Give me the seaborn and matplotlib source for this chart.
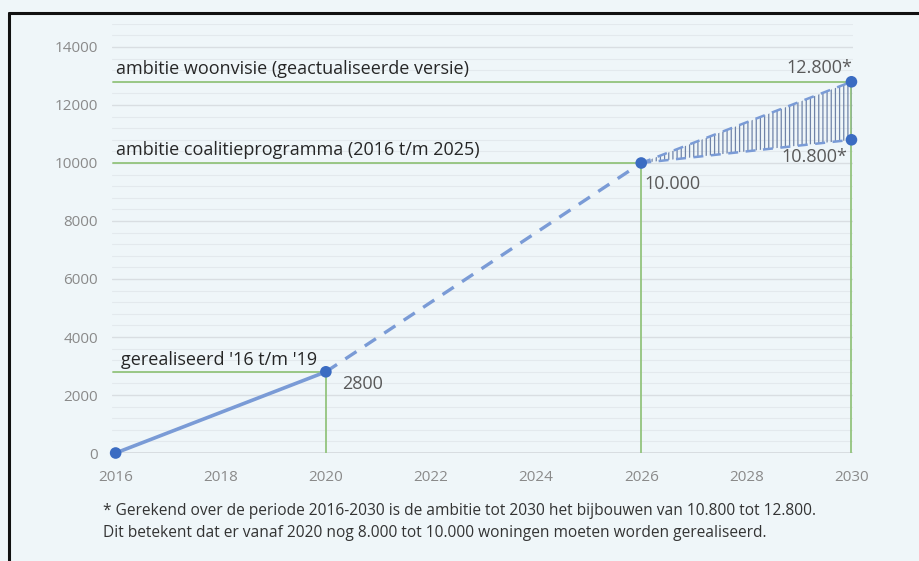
import matplotlib
matplotlib.use("Agg")
import matplotlib.pyplot as plt
import seaborn as sns
import pandas as pd
from matplotlib.lines import Line2D

# ---- data ----
real_years = [2016, 2020]
real_values = [0, 2800]
proj_years = [2020, 2026]
proj_values = [2800, 10000]
amb_years = [2026, 2030]
amb_low = [10000, 10800]
amb_high = [10000, 12800]
point_years = [2016, 2020, 2026, 2030, 2030]
point_values = [0, 2800, 10000, 12800, 10800]
ref_levels = [2800, 10000, 12800]
ref_years = [2020, 2026, 2030]
ref_labels = ["gerealiseerd '16 t/m '19",
              "ambitie coalitieprogramma (2016 t/m 2025)",
              "ambitie woonvisie (geactualiseerde versie)"]
value_labels = ["2800", "10.000", "12.800*", "10.800*"]
x_ticks = [2016, 2018, 2020, 2022, 2024, 2026, 2028, 2030]
y_ticks = [0, 2000, 4000, 6000, 8000, 10000, 12000, 14000]
footnote = ["* Gerekend over de periode 2016-2030 is de ambitie tot 2030 het bijbouwen van 10.800 tot 12.800.",
            "Dit betekent dat er vanaf 2020 nog 8.000 tot 10.000 woningen moeten worden gerealiseerd."]

BG = "#eff6f9"
GREEN = "#93c47d"
LINE = "#7a9bd6"
DOT = "#3b6cc2"
HATCH = "#6f83a8"
GRAYTXT = "#8a8a8a"
DARK = "#262626"

sns.set_theme(style="white")
plt.rcParams['font.family'] = ['Open Sans', 'DejaVu Sans']
plt.rcParams['hatch.linewidth'] = 0.9

fig = plt.figure(figsize=(9.2, 5.61), dpi=100, facecolor=BG)
ax = fig.add_axes([0.1217, 0.1925, 0.8055, 0.7651])
ax.set_facecolor(BG)

x0, x1 = 2015.93, 2030.03
ax.set_xlim(x0, x1)
ax.set_ylim(0, 14800)

# grid
for v in range(400, 14801, 400):
    major = (v % 2000 == 0)
    ax.axhline(v, color="#d9dee2" if major else "#e3e9ed", lw=1.0 if major else 0.8, zorder=0)
ax.axhline(0, color="#d4d9dd", lw=1.2, zorder=0)

for s in ax.spines.values():
    s.set_visible(False)

# reference green lines
for lvl, yr in zip(ref_levels, ref_years):
    ax.plot([2015.95, yr], [lvl, lvl], color=GREEN, lw=1.3, zorder=1)
    ax.plot([yr, yr], [0, lvl], color=GREEN, lw=1.3, zorder=1)

# hatched ambition range
ax.fill_between(amb_years, amb_low, amb_high, facecolor="none", edgecolor=HATCH,
                hatch="||||", lw=0, zorder=2)

df_real = pd.DataFrame({"jaar": real_years, "woningen": real_values})
df_proj = pd.DataFrame({"jaar": proj_years, "woningen": proj_values})
df_low = pd.DataFrame({"jaar": amb_years, "woningen": amb_low})
df_high = pd.DataFrame({"jaar": amb_years, "woningen": amb_high})

sns.lineplot(data=df_real, x="jaar", y="woningen", ax=ax, color=LINE, lw=2.6, zorder=3)
sns.lineplot(data=df_proj, x="jaar", y="woningen", ax=ax, color=LINE, lw=2.4,
             linestyle=(0, (4, 3)), zorder=3)
for d in (df_low, df_high):
    sns.lineplot(data=d, x="jaar", y="woningen", ax=ax, color=LINE, lw=1.8,
                 linestyle=(0, (4, 3)), zorder=3)

df_pts = pd.DataFrame({"jaar": point_years, "woningen": point_values})
sns.scatterplot(data=df_pts, x="jaar", y="woningen", ax=ax, color=DOT, s=70,
                edgecolor="none", zorder=5, clip_on=False)

# ticks
ax.set_xticks(x_ticks)
ax.set_yticks(y_ticks)
ax.set_xticklabels([str(t) for t in x_ticks], color=GRAYTXT, fontsize=11)
ax.set_yticklabels([str(t) for t in y_ticks], color=GRAYTXT, fontsize=11)
ax.tick_params(axis="both", length=0)
ax.tick_params(axis="x", pad=12)
ax.tick_params(axis="y", pad=10)
ax.set_xlabel("")
ax.set_ylabel("")

# reference labels
ax.text(2016.0, 12800 + 140, ref_labels[2], fontsize=13, color=DARK, va="bottom", ha="left")
ax.text(2016.0, 10000 + 140, ref_labels[1], fontsize=13, color=DARK, va="bottom", ha="left")
ax.text(2016.1, 2800 + 100, ref_labels[0], fontsize=13, color=DARK, va="bottom", ha="left")

# value labels
ax.text(2020.3, 2380, value_labels[0], fontsize=13, color="#595959", va="center", ha="left")
ax.text(2026.07, 9276, value_labels[1], fontsize=13, color="#595959", va="center", ha="left")
ax.text(2030.02, 13276, value_labels[2], fontsize=13, color="#595959", va="center", ha="right")
ax.text(2029.93, 10207, value_labels[3], fontsize=13, color="#595959", va="center", ha="right")

# footnote
fam = ['Liberation Sans Narrow', 'Open Sans', 'DejaVu Sans']
fig.text(103 / 920, 1 - 511 / 561, footnote[0], fontsize=11.2, color="#333333",
         va="center", ha="left", family=fam)
fig.text(103 / 920, 1 - 533 / 561, footnote[1], fontsize=11.2, color="#333333",
         va="center", ha="left", family=fam)

# frame lines (top and left)
fig.add_artist(Line2D([9 / 920, 1.0], [1 - 13 / 561, 1 - 13 / 561], color="#111111", lw=2.2,
                      transform=fig.transFigure))
fig.add_artist(Line2D([9 / 920, 9 / 920], [0, 1 - 13 / 561], color="#111111", lw=2.2,
                      transform=fig.transFigure))

fig.savefig("out.png", dpi=100, facecolor=BG)
